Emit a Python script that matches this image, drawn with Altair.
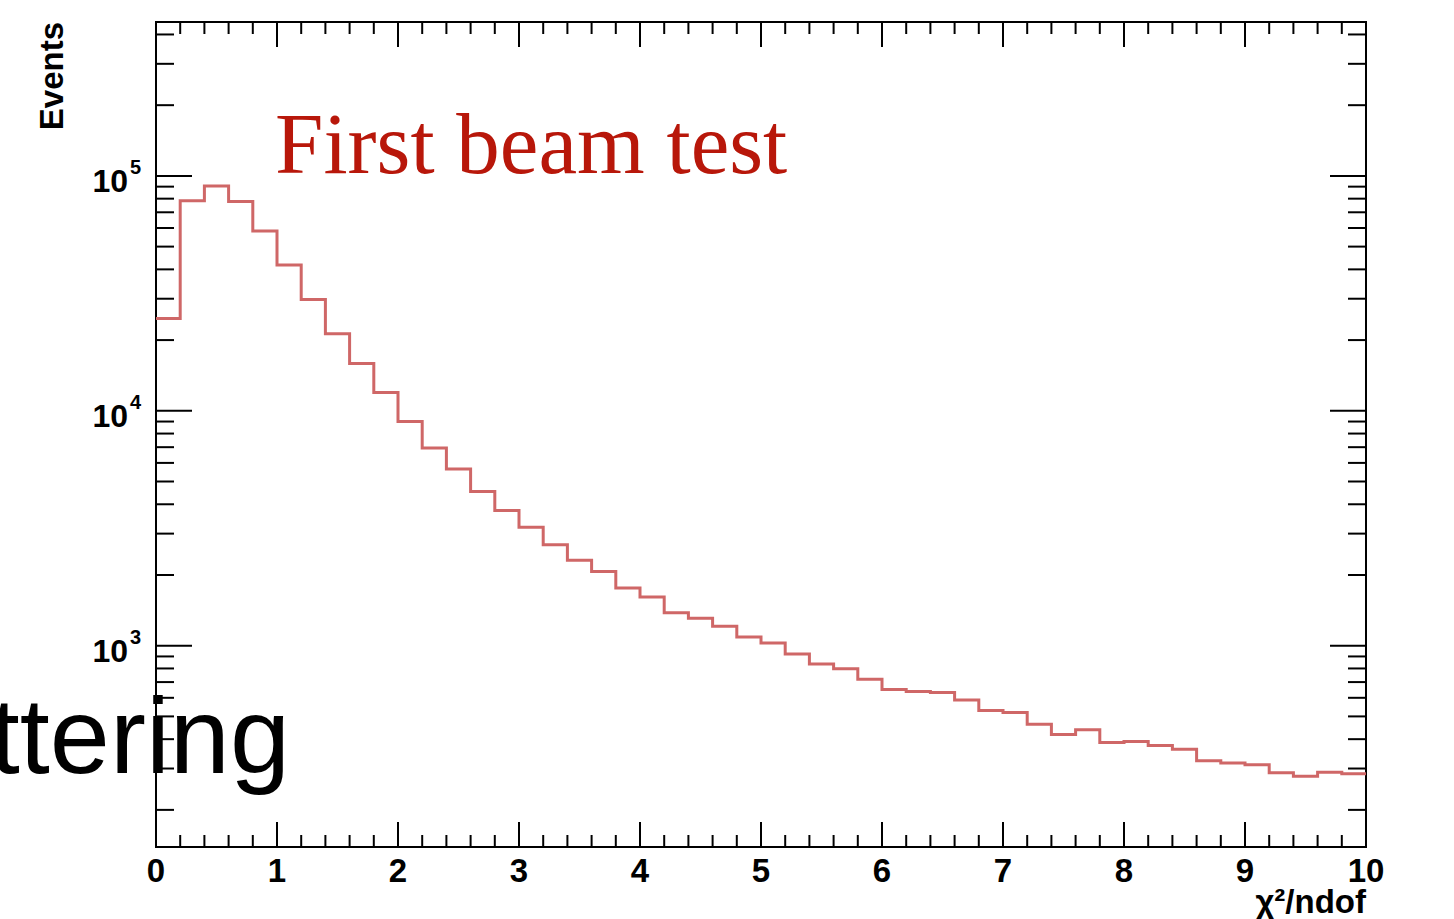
import altair as alt
import pandas as pd

# ---------------- data ----------------
bin_low = [0.0, 0.2, 0.4, 0.6, 0.8, 1.0, 1.2, 1.4, 1.6, 1.8,
           2.0, 2.2, 2.4, 2.6, 2.8, 3.0, 3.2, 3.4, 3.6, 3.8,
           4.0, 4.2, 4.4, 4.6, 4.8, 5.0, 5.2, 5.4, 5.6, 5.8,
           6.0, 6.2, 6.4, 6.6, 6.8, 7.0, 7.2, 7.4, 7.6, 7.8,
           8.0, 8.2, 8.4, 8.6, 8.8, 9.0, 9.2, 9.4, 9.6, 9.8]
counts = [24700, 78300, 90600, 77800, 58300, 41800, 29800, 21300, 15900, 11950,
          9000, 6940, 5650, 4530, 3760, 3190, 2690, 2310, 2070, 1760,
          1610, 1380, 1310, 1210, 1090, 1026, 921, 835, 798, 720,
          651, 639, 632, 587, 530, 520, 463, 419, 439, 387,
          391, 376, 362, 324, 317, 311, 288, 278, 289, 285]
x_end = 10.0

x_major = [0, 1, 2, 3, 4, 5, 6, 7, 8, 9, 10]
x_labels = ["0", "1", "2", "3", "4", "5", "6", "7", "8", "9", "10"]
x_minor = [0.2, 0.4, 0.6, 0.8, 1.2, 1.4, 1.6, 1.8, 2.2, 2.4, 2.6, 2.8,
           3.2, 3.4, 3.6, 3.8, 4.2, 4.4, 4.6, 4.8, 5.2, 5.4, 5.6, 5.8,
           6.2, 6.4, 6.6, 6.8, 7.2, 7.4, 7.6, 7.8, 8.2, 8.4, 8.6, 8.8,
           9.2, 9.4, 9.6, 9.8]
y_major = [1000, 10000, 100000]
y_exponents = ["3", "4", "5"]
y_minor = [200, 300, 400, 500, 600, 700, 800, 900,
           2000, 3000, 4000, 5000, 6000, 7000, 8000, 9000,
           20000, 30000, 40000, 50000, 60000, 70000, 80000, 90000,
           200000, 300000, 400000]

X_DOMAIN = [0, 10]
Y_DOMAIN = [139, 452000]

W, H = 1210, 825
FONT = "Liberation Sans"

xs = alt.Scale(domain=X_DOMAIN, nice=False, zero=False)
ys = alt.Scale(type="log", domain=Y_DOMAIN, nice=False)

# ---------------- histogram ----------------
step_df = pd.DataFrame({"x": bin_low + [x_end], "y": counts + [counts[-1]]})
hist = alt.Chart(step_df).mark_line(
    interpolate="step-after", color="#cf6767", strokeWidth=3
).encode(
    x=alt.X("x:Q", scale=xs, axis=None),
    y=alt.Y("y:Q", scale=ys, axis=None),
)

# ---------------- ticks (ROOT style, inward on all sides) ----------------
def x_ticks(vals, length):
    df = pd.DataFrame({"v": vals})
    base = alt.Chart(df).mark_rule(color="black", strokeWidth=2)
    xe = alt.X("v:Q", scale=xs, axis=None)
    bottom = base.encode(x=xe, y=alt.value(H), y2=alt.value(H - length))
    top = base.encode(x=xe, y=alt.value(0), y2=alt.value(length))
    return [bottom, top]


def y_ticks(vals, length):
    df = pd.DataFrame({"v": vals})
    base = alt.Chart(df).mark_rule(color="black", strokeWidth=2)
    ye = alt.Y("v:Q", scale=ys, axis=None)
    left = base.encode(y=ye, x=alt.value(0), x2=alt.value(length))
    right = base.encode(y=ye, x=alt.value(W), x2=alt.value(W - length))
    return [left, right]


ticks = x_ticks(x_major, 25) + x_ticks(x_minor, 12) + y_ticks(y_major, 36) + y_ticks(y_minor, 18)

# ---------------- labels ----------------
xlab_df = pd.DataFrame({"v": x_major, "t": x_labels})
xlab = alt.Chart(xlab_df).mark_text(
    font=FONT, fontWeight="bold", fontSize=33, align="center", baseline="alphabetic", color="black"
).encode(x=alt.X("v:Q", scale=xs, axis=None), y=alt.value(860), text="t:N")

ylab_df = pd.DataFrame({"v": y_major, "e": y_exponents})
ylab_base = alt.Chart(ylab_df).mark_text(
    font=FONT, fontWeight="bold", fontSize=32, align="right", baseline="alphabetic",
    color="black", dy=16
).encode(y=alt.Y("v:Q", scale=ys, axis=None), x=alt.value(-28), text=alt.value("10"))
ylab_exp = alt.Chart(ylab_df).mark_text(
    font=FONT, fontWeight="bold", fontSize=20, align="left", baseline="alphabetic",
    color="black", dy=-2
).encode(y=alt.Y("v:Q", scale=ys, axis=None), x=alt.value(-26), text="e:N")

ytitle = alt.Chart(pd.DataFrame({"a": [0]})).mark_text(
    font=FONT, fontWeight="bold", fontSize=33, angle=270, align="right",
    baseline="alphabetic", color="black"
).encode(x=alt.value(-93), y=alt.value(0), text=alt.value("Events"))

xtitle = alt.Chart(pd.DataFrame({"a": [0]})).mark_text(
    font=FONT, fontWeight="bold", fontSize=33, align="right",
    baseline="alphabetic", color="black"
).encode(x=alt.value(W), y=alt.value(891), text=alt.value("χ²/ndof"))

beam = alt.Chart(pd.DataFrame({"a": [0]})).mark_text(
    font="Liberation Serif", fontSize=87, align="left", baseline="alphabetic", color="#b8170a"
).encode(x=alt.value(119), y=alt.value(151), text=alt.value("First beam test"))

scat = alt.Chart(pd.DataFrame({"a": [0]})).mark_text(
    font=FONT, fontSize=108, align="right", baseline="alphabetic", color="black"
).encode(x=alt.value(134), y=alt.value(751), text=alt.value("Scattering"))

chart = alt.layer(
    hist, *ticks, xlab, ylab_base, ylab_exp, ytitle, xtitle, beam, scat
).properties(
    width=W, height=H,
    autosize=alt.AutoSizeParams(type="none"),
    padding={"left": 156, "top": 22, "right": 88, "bottom": 72},
    background="white",
).configure_view(stroke="black", strokeWidth=2)

chart.save("out.html", embed_options={"renderer": "svg", "actions": False})
